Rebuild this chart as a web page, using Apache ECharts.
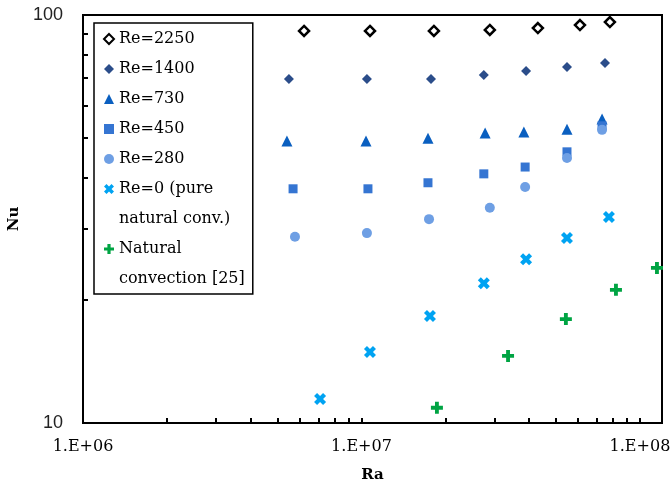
<!DOCTYPE html>
<html>
<head>
<meta charset="utf-8">
<script src="https://cdn.jsdelivr.net/npm/echarts@6/dist/echarts.min.js"></script>
<style>html,body{margin:0;padding:0;background:#fff}#c{width:670px;height:487px}</style>
</head>
<body>
<div id="c"></div>
<script>
// Ra values and Nu values
var ra2250 = [6.22e6, 1.073e7, 1.82e7, 2.89e7, 4.30e7, 6.09e7, 7.80e7];
var nu2250 = [91.4, 91.4, 91.4, 91.9, 92.9, 94.5, 96.1];
var ra1400 = [5.49e6, 1.046e7, 1.777e7, 2.75e7, 3.90e7, 5.47e7, 7.49e7];
var nu1400 = [69.7, 69.7, 69.7, 71.3, 72.9, 74.6, 76.3];
var ra730 = [5.40e6, 1.038e7, 1.733e7, 2.78e7, 3.83e7, 5.47e7, 7.31e7];
var nu730 = [49.1, 49.1, 49.9, 51.4, 51.7, 52.5, 55.6];
var ra450 = [5.68e6, 1.055e7, 1.733e7, 2.75e7, 3.87e7, 5.47e7, 7.31e7];
var nu450 = [37.5, 37.5, 38.8, 40.8, 42.4, 46.2, 53.5];
var ra280 = [5.77e6, 1.046e7, 1.748e7, 2.89e7, 3.87e7, 5.47e7, 7.31e7];
var nu280 = [28.6, 29.2, 31.6, 33.7, 37.9, 44.6, 52.3];
var ra0 = [7.10e6, 1.073e7, 1.762e7, 2.75e7, 3.90e7, 5.47e7, 7.74e7];
var nu0 = [11.45, 14.93, 18.29, 22.0, 25.2, 28.4, 32.0];
var raNat = [1.866e7, 3.36e7, 5.42e7, 8.20e7, 1.151e8];
var nuNat = [10.9, 14.6, 17.98, 21.2, 23.99];

var seriesNames = ['Re=2250', 'Re=1400', 'Re=730', 'Re=450', 'Re=280', 'Re=0 (pure natural conv.)', 'Natural convection [25]'];
var legendFirstLines = {'Re=0 (pure natural conv.)': 'Re=0 (pure', 'Natural convection [25]': 'Natural'};
var legendContinuations = ['natural conv.)', 'convection [25]'];
var xTickLabels = [1e6, 1e7, 1e8];
var yTickLabels = [10, 100];
var xRange = [1e6, 1.2e8];
var yRange = [10, 100];
var xMinorTicks = [2e6,3e6,4e6,5e6,6e6,7e6,8e6,9e6,1e7,2e7,3e7,4e7,5e7,6e7,7e7,8e7,9e7,1e8];
var yMinorTicks = [20,30,40,50,60,70,80,90];

function pairs(xs, ys) { return xs.map(function (x, i) { return [x, ys[i]]; }); }

var crossPath = 'path://M0,2.5 L2.5,0 L5,2.5 L7.5,0 L10,2.5 L7.5,5 L10,7.5 L7.5,10 L5,7.5 L2.5,10 L0,7.5 L2.5,5 Z';
var plusPath = 'path://M3.4,0 H6.6 V3.4 H10 V6.6 H6.6 V10 H3.4 V6.6 H0 V3.4 H3.4 Z';

var chart = echarts.init(document.getElementById('c'), null, {renderer: 'canvas'});
var serifFont = 'DejaVu Serif';

function expLabel(v) {
  var e = Math.round(Math.log10(v));
  return '1.E+' + (e < 10 ? '0' + e : e);
}

var tickStyle = {inside: true, length: 5, lineStyle: {color: '#000', width: 2}};

function tickOverlayAxis(range, ticks, extra) {
  // log-positioned tick marks on a linear axis spanning log10 of the log axis range
  return Object.assign({
    type: 'value',
    min: Math.log10(range[0]), max: Math.log10(range[1]),
    axisLine: {show: false},
    axisLabel: {show: false},
    splitLine: {show: false},
    axisTick: Object.assign({customValues: ticks.map(function (t) { return Math.log10(t); })}, tickStyle),
    silent: true
  }, extra);
}

chart.setOption({
  animation: false,
  backgroundColor: '#fff',
  grid: {left: 83, top: 15, right: 8, bottom: 64, show: true, borderColor: '#000', borderWidth: 2,
         containLabel: false, outerBoundsMode: 'none'},
  legend: {
    orient: 'vertical',
    left: 94, top: 23,
    padding: [1, 8, 0, 9],
    itemGap: 0,
    itemWidth: 10, itemHeight: 10,
    borderColor: '#000', borderWidth: 1.5,
    backgroundColor: '#fff',
    selectedMode: false,
    data: [
      'Re=2250', 'Re=1400', 'Re=730', 'Re=450', 'Re=280',
      'Re=0 (pure natural conv.)', {name: 'natural conv.)', icon: 'none'},
      'Natural convection [25]', {name: 'convection [25]', icon: 'none'}
    ],
    formatter: function (name) { return legendFirstLines[name] || name; },
    textStyle: {fontFamily: serifFont, fontSize: 16, color: '#000', lineHeight: 30}
  },
  xAxis: [{
    type: 'log', min: xRange[0], max: xRange[1], logBase: 10,
    name: 'Ra', nameLocation: 'middle', nameGap: 45,
    nameTextStyle: {fontFamily: serifFont, fontSize: 15, fontWeight: 'bold', color: '#000'},
    axisLine: {lineStyle: {color: '#000', width: 2}},
    axisTick: {show: false},
    axisLabel: {customValues: xTickLabels, formatter: expLabel, fontFamily: serifFont, fontSize: 16, color: '#000', margin: 16},
    splitLine: {show: false}
  }, tickOverlayAxis(xRange, xMinorTicks, {position: 'bottom'})],
  yAxis: [{
    type: 'log', min: yRange[0], max: yRange[1], logBase: 10,
    name: 'Nu', nameLocation: 'middle', nameGap: 53, nameRotate: 90,
    nameTextStyle: {fontFamily: serifFont, fontSize: 15, fontWeight: 'bold', color: '#000'},
    axisLine: {lineStyle: {color: '#000', width: 2}},
    axisTick: {show: false},
    axisLabel: {customValues: yTickLabels, fontFamily: 'Liberation Sans', fontSize: 18, color: '#222', margin: 20},
    splitLine: {show: false}
  }, tickOverlayAxis(yRange, yMinorTicks, {position: 'left'})],
  series: [
    {name: seriesNames[0], type: 'scatter', data: pairs(ra2250, nu2250), symbol: 'diamond', symbolSize: 10,
     itemStyle: {color: '#fff', borderColor: '#000', borderWidth: 2.5, opacity: 1}},
    {name: seriesNames[1], type: 'scatter', data: pairs(ra1400, nu1400), symbol: 'diamond', symbolSize: 10,
     itemStyle: {color: '#2B4D8A', opacity: 1}},
    {name: seriesNames[2], type: 'scatter', data: pairs(ra730, nu730), symbol: 'triangle', symbolSize: 11,
     itemStyle: {color: '#0A5FC0', opacity: 1}},
    {name: seriesNames[3], type: 'scatter', data: pairs(ra450, nu450), symbol: 'rect', symbolSize: 9,
     itemStyle: {color: '#3575D2', opacity: 1}},
    {name: seriesNames[4], type: 'scatter', data: pairs(ra280, nu280), symbol: 'circle', symbolSize: 10,
     itemStyle: {color: '#6E9FE4', opacity: 1}},
    {name: seriesNames[5], type: 'scatter', data: pairs(ra0, nu0), symbol: crossPath, symbolSize: 12,
     itemStyle: {color: '#00A3F2', opacity: 1}},
    {name: legendContinuations[0], type: 'scatter', data: []},
    {name: seriesNames[6], type: 'scatter', data: pairs(raNat, nuNat), symbol: plusPath, symbolSize: 12,
     itemStyle: {color: '#00A443', opacity: 1}},
    {name: legendContinuations[1], type: 'scatter', data: []}
  ]
});
</script>
</body>
</html>
